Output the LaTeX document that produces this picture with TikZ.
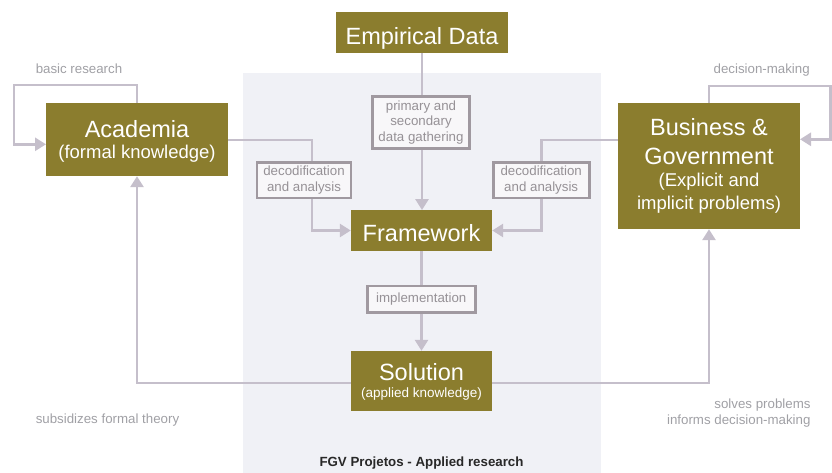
\documentclass[tikz,border=0pt]{standalone}
\usepackage{fontspec}
\setmainfont{Liberation Sans}
\usetikzlibrary{arrows.meta}
\definecolor{olive}{RGB}{139,125,46}
\definecolor{panel}{RGB}{240,241,246}
\definecolor{conn}{RGB}{197,191,203}
\definecolor{lblborder}{RGB}{160,153,160}
\definecolor{lblfill}{RGB}{248,247,249}
\definecolor{lbltext}{RGB}{150,145,150}
\definecolor{note}{RGB}{160,160,165}
\definecolor{dark}{RGB}{40,40,40}
\tikzset{
  mainbox/.style={fill=olive, text=white, inner sep=0pt, align=center, minimum width=#1},
  bigline/.style={text=white, inner sep=0pt, anchor=base, font=\fontsize{23.5}{28}\selectfont},
  smlline/.style={text=white, inner sep=0pt, anchor=base, font=\fontsize{18.5}{22.5}\selectfont},
  lblbox/.style={draw=lblborder, line width=2.6pt, fill=lblfill, text=lbltext, inner sep=0pt, align=center,
     font=\fontsize{13.3}{15.5}\selectfont},
  conn/.style={draw=conn, line width=2.7pt},
  arr/.style={conn, -{Triangle[length=11pt,width=13pt]}},
  notetext/.style={text=note, font=\fontsize{13.3}{15.5}\selectfont, inner sep=0pt, anchor=base},
}
\begin{document}
\begin{tikzpicture}[x=1pt,y=-1pt]
\useasboundingbox (0,0) rectangle (832,473);
\fill[panel] (243,73) rectangle (601,473);

% main boxes
\node[mainbox=172pt, minimum height=41pt] (emp) at (422,32.5) {};
\node[mainbox=182pt, minimum height=73pt] (acad) at (137,139.5) {};
\node[mainbox=182pt, minimum height=126pt] (bg) at (709,166) {};
\node[mainbox=141pt, minimum height=40.5pt] (frame) at (421.5,230.5) {};
\node[mainbox=141pt, minimum height=60pt] (sol) at (421.5,381) {};

% box texts
\node[bigline] (tEmp) at (422,44.3) {Empirical Data};
\node[bigline] (tAcad1) at (137,137.3) {Academia};
\node[smlline] (tAcad2) at (137,158.5) {(formal knowledge)};
\node[bigline] (tBg1) at (709,136) {Business \&};
\node[bigline] (tBg2) at (709,165) {Government};
\node[smlline] (tBg3) at (709,186.7) {(Explicit and};
\node[smlline] (tBg4) at (709,209) {implicit problems)};
\node[bigline] (tFrame) at (421.5,241.3) {Framework};
\node[bigline] (tSol1) at (421.5,380) {Solution};
\node[text=white, inner sep=0pt, anchor=base, font=\fontsize{13.5}{16}\selectfont] (tSol2) at (421.5,397.3) {(applied knowledge)};

% helper coordinates
\coordinate (aloopA) at (137,85);
\coordinate (aloopB) at (14,144.3);
\coordinate (aend) at (46,144.3);
\coordinate (bloopA) at (709,86);
\coordinate (bloopB) at (830.5,139.3);
\coordinate (bend) at (800,139.3);
\coordinate (lcorner) at (312,140);
\coordinate (rcorner) at (541.5,140);
\coordinate (solrow) at (421.5,383);

% connectors
\draw[arr] (emp.south) -- (emp.south |- frame.north);
\draw[arr] (acad.north -| aloopA) |- (aloopA) -| (aloopB) |- (aend);
\draw[arr] (bg.north -| bloopA) |- (bloopA) -| (bloopB) |- (bend);
\draw[arr] (acad.east |- lcorner) -- (lcorner) |- (frame.west);
\draw[arr] (bg.west |- rcorner) -- (rcorner) |- (frame.east);
\draw[arr] (frame.south) -- (sol.north);
\draw[arr] (sol.west |- solrow) -| (acad.south);
\draw[arr] (sol.east |- solrow) -| (bg.south);

% label boxes on connectors
\node[lblbox, minimum width=97pt, minimum height=52pt] (prim) at (421,122.5)
  {primary and\\secondary\\data gathering};
\node[lblbox, minimum width=94pt, minimum height=35.5pt] (decL) at (304,180.2)
  {decodification\\and analysis};
\node[lblbox, minimum width=96pt, minimum height=35.5pt] (decR) at (541.2,180.2)
  {decodification\\and analysis};
\node[lblbox, minimum width=108pt, minimum height=26.5pt] (impl) at (421.3,299.4)
  {implementation};

% notes
\node[notetext] (nbasic) at (79,73.3) {basic research};
\node[notetext] (ndec) at (761.7,73.3) {decision-making};
\node[notetext] (nsub) at (107.5,423.5) {subsidizes formal theory};
\node[notetext, anchor=base east] (nsolve1) at (810.7,408.5) {solves problems};
\node[notetext, anchor=base east] (nsolve2) at (810.7,424.2) {informs decision-making};
\node[text=dark, font=\fontsize{13.3}{15.5}\selectfont\bfseries, inner sep=0pt, anchor=base] (fgv) at (421.5,466.7)
  {FGV Projetos - Applied research};
\end{tikzpicture}
\end{document}
